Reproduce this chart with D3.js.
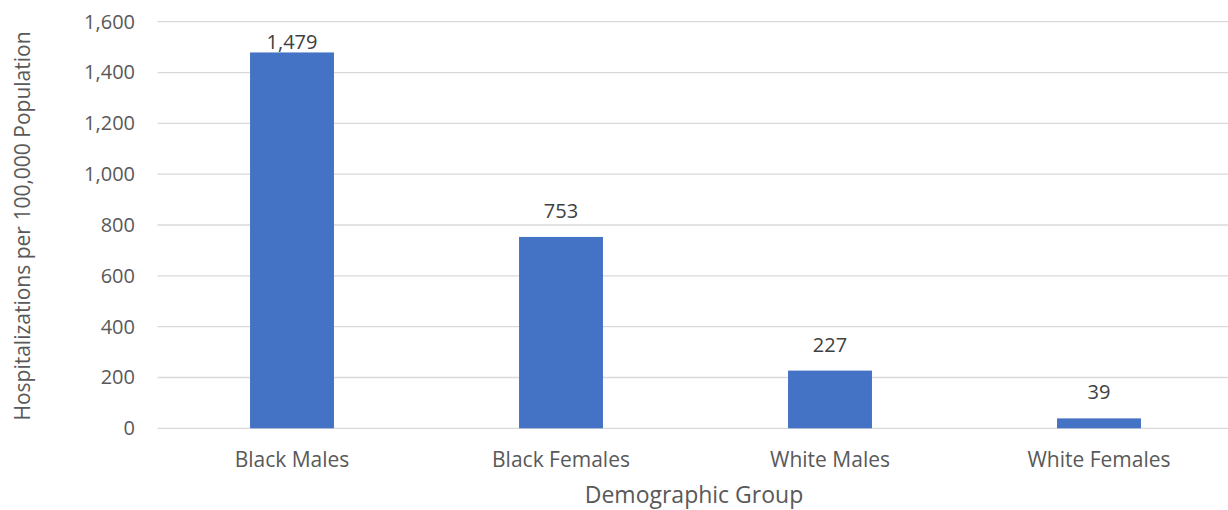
<!DOCTYPE html>
<html>
<head>
<meta charset="utf-8">
<script src="https://cdn.jsdelivr.net/npm/d3@7"></script>
<style>
  body { margin: 0; background: #fff; }
  svg text { font-family: "Open Sans", sans-serif; fill: #595959; }
</style>
</head>
<body>
<div id="chart"></div>
<script>
// Chart data
const groups = ['Black Males', 'Black Females', 'White Males', 'White Females'];
const rates = [1479, 753, 227, 39];
const yTicks = [0, 200, 400, 600, 800, 1000, 1200, 1400, 1600];

const width = 1228, height = 510;

const svg = d3.select('#chart')
    .append('svg')
    .attr('width', width)
    .attr('height', height);

// Scales
const xScale = d3.scaleBand()
    .domain(groups)
    .range([157.5, 1233.5])
    .paddingInner(0.688)
    .paddingOuter(0.344);

const yScale = d3.scaleLinear()
    .domain([0, 1600])
    .range([428.3, 21.7]);

const fmt = d3.format(',');

// Gridlines
svg.append('g')
    .selectAll('line')
    .data(yTicks)
    .enter().append('line')
    .attr('x1', 157.5)
    .attr('x2', 1233.5)
    .attr('y1', d => yScale(d))
    .attr('y2', d => yScale(d))
    .style('stroke', '#d9d9d9')
    .style('stroke-width', 1.3);

// Y axis labels
let yAxis = d3.axisLeft(yScale).tickValues(yTicks).tickFormat(fmt).tickSize(0).tickPadding(0);
let yNode = svg.append('g')
    .attr('transform', 'translate(135,0)')
    .call(yAxis);
yNode.select('path').remove();
yNode.selectAll('text').style('font-size', '20px').style('fill', '#595959');

// Bars
svg.append('g')
    .selectAll('rect')
    .data(rates)
    .enter().append('rect')
    .attr('x', (d, i) => xScale(groups[i]))
    .attr('width', xScale.bandwidth())
    .attr('y', d => yScale(d))
    .attr('height', d => yScale(0) - yScale(d))
    .style('fill', '#4472C4');

// Value labels (kept inside the plot area at the top)
svg.append('g')
    .selectAll('text')
    .data(rates)
    .enter().append('text')
    .attr('x', (d, i) => xScale(groups[i]) + xScale.bandwidth() / 2)
    .attr('y', d => Math.max(yScale(d) - 19, yScale(1600) + 27))
    .attr('text-anchor', 'middle')
    .style('font-size', '20px')
    .style('fill', '#404040')
    .text(d => fmt(d));

// X axis labels
let xAxis = d3.axisBottom(xScale).tickSize(0).tickPadding(0);
let xNode = svg.append('g')
    .attr('transform', 'translate(0,452)')
    .call(xAxis);
xNode.select('path').remove();
xNode.selectAll('text').style('font-size', '21px').style('fill', '#595959');

// Axis titles
svg.append('text')
    .attr('x', 694)
    .attr('y', 503)
    .attr('text-anchor', 'middle')
    .style('font-size', '23px')
    .text('Demographic Group');

svg.append('text')
    .attr('transform', 'translate(30,226) rotate(-90)')
    .attr('text-anchor', 'middle')
    .style('font-size', '21px')
    .text('Hospitalizations per 100,000 Population');
</script>
</body>
</html>
